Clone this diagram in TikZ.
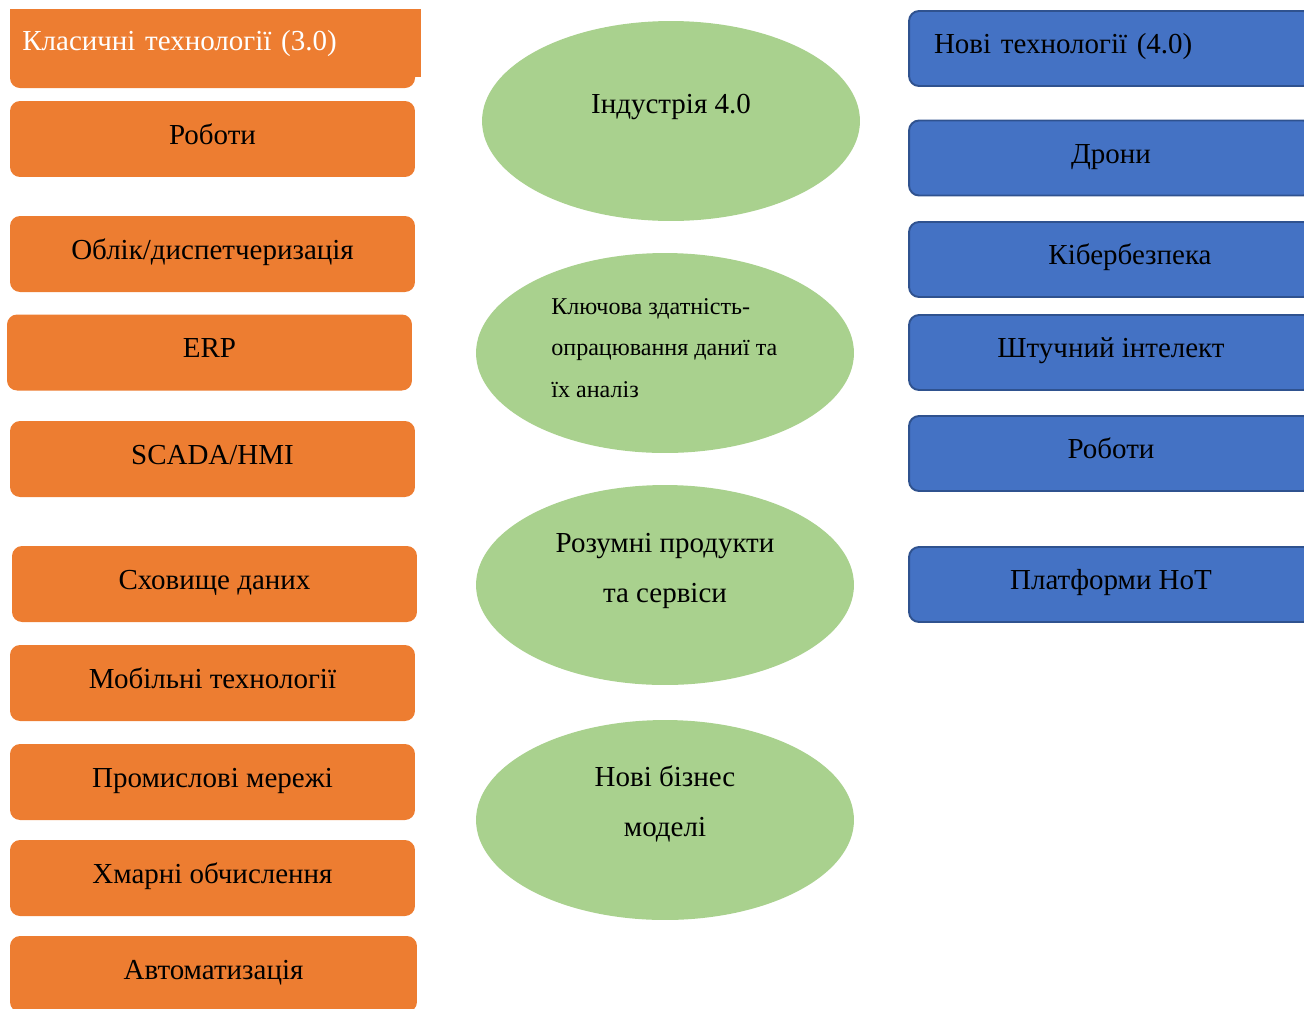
\documentclass[tikz,border=0pt]{standalone}
\usepackage{fontspec}
\setmainfont{Liberation Serif}
\usetikzlibrary{shapes.geometric}
\definecolor{boxorange}{HTML}{ED7D31}
\definecolor{boxblue}{HTML}{4472C4}
\definecolor{boxblueline}{HTML}{2F528F}
\definecolor{ideagreen}{HTML}{A9D18E}

\begin{document}
\begin{tikzpicture}
    [x=0.02cm, y=-0.02cm,
     oldtech/.style={rectangle, rounded corners=0.2cm, fill=boxorange, minimum width=8.1cm, minimum height=1.52cm, inner sep=0pt, text height=11.5pt, text depth=5.8pt, font=\fontsize{16.5}{19}\selectfont},
     newtech/.style={rectangle, rounded corners=0.2cm, fill=boxblue, draw=boxblueline, line width=1.1pt, minimum width=8.08cm, minimum height=1.5cm, inner sep=0pt, text height=11.5pt, text depth=5.8pt, font=\fontsize{16.5}{19}\selectfont},
     idea/.style={ellipse, fill=ideagreen, minimum width=7.56cm, minimum height=4cm, inner sep=0pt},
     ideatext/.style={align=center, inner sep=0pt, font=\fontsize{16.5}{28.5}\selectfont}]
    \useasboundingbox (0,0) rectangle (1304,1008);
    \clip (0,0) rectangle (1304,1008);
    % Classic technologies
    \fill[boxorange, rounded corners=0.2cm] (10,20) rectangle (415,88);
    \node[rectangle, fill=boxorange, anchor=north west, minimum height=1.36cm, inner xsep=0.24cm, inner ysep=0pt, text width=7.74cm, align=left, text=white, font=\fontsize{16.5}{19}\selectfont] (classic) at (10,9) {Класичні технології (3.0)};
    \node[oldtech] (robots) at (212.5,139) {Роботи};
    \node[oldtech] (dispatch) at (212.5,254) {Облік/диспетчеризація};
    \node[oldtech] (erp) at (209.5,352.5) {ERP};
    \node[oldtech] (scada) at (212.5,459) {SCADA/HMI};
    \node[oldtech] (storage) at (214.5,584) {Сховище даних};
    \node[oldtech] (mobile) at (212.5,683) {Мобільні технології};
    \node[oldtech] (networks) at (212.5,782) {Промислові мережі};
    \node[oldtech] (cloud) at (212.5,878) {Хмарні обчислення};
    \node[oldtech, minimum width=8.14cm] (automation) at (213.5,974) {Автоматизація};
    % Industry 4.0 ideas
    \node[idea] (industry) at (671,121) {};
    \node[ideatext] (industrytext) at ([yshift=0.28cm]industry.center) {Індустрія 4.0};
    \node[idea] (key) at (665,353) {};
    \node[ideatext, anchor=west, align=left, font=\fontsize{13.7}{23.8}\selectfont] (keytext) at (551,348) {Ключова здатність-\\опрацювання даниї та\\їх аналіз};
    \node[idea] (smart) at (665,585) {};
    \node[ideatext] (smarttext) at ([yshift=0.28cm]smart.center) {Розумні продукти\\та сервіси};
    \node[idea] (business) at (665,820) {};
    \node[ideatext] (businesstext) at ([yshift=0.32cm]business.center) {Нові бізнес\\моделі};
    % New technologies
    \node[newtech, text width=7.08cm, inner xsep=0.5cm, align=left] (newhead) at (1111,48.5) {Нові технології (4.0)};
    \node[newtech] (drones) at (1111,158) {Дрони};
    \node[newtech] (cyber) at (1111,259.5) {\hspace*{0.76cm}Кібербезпека};
    \node[newtech] (ai) at (1111,352.5) {Штучний інтелект};
    \node[newtech] (robots2) at (1111,453.5) {Роботи};
    \node[newtech] (iiot) at (1111,584.5) {Платформи HoT};
\end{tikzpicture}
\end{document}
